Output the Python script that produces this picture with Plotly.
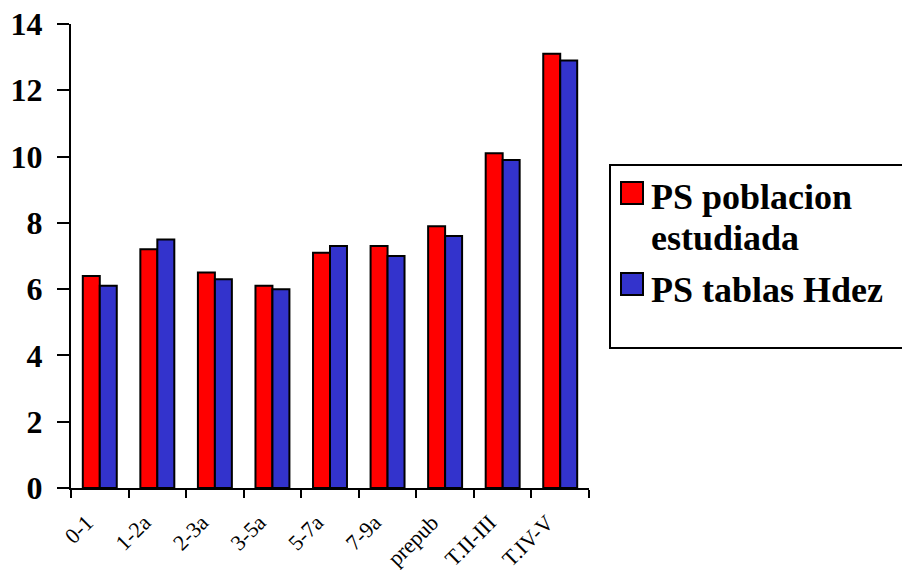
import plotly.graph_objects as go

categories = ["0-1", "1-2a", "2-3a", "3-5a", "5-7a", "7-9a", "prepub", "T.II-III", "T.IV-V"]
ps_poblacion = [6.4, 7.2, 6.5, 6.1, 7.1, 7.3, 7.9, 10.1, 13.1]
ps_tablas = [6.1, 7.5, 6.3, 6.0, 7.3, 7.0, 7.6, 9.9, 12.9]
series_names = ["PS poblacion<br>estudiada", "PS tablas Hdez"]
series_colors = ["#FF0000", "#3333CC"]

W, H = 902, 570
L, R, T, B = 71, 589, 24, 488
SERIF = "Liberation Serif, Times New Roman, serif"

def px(x):
    return (x - L) / (R - L)

def py(y):
    return (B - y) / (B - T)

fig = go.Figure()
for vals, col in zip([ps_poblacion, ps_tablas], series_colors):
    fig.add_trace(go.Bar(x=categories, y=vals, marker=dict(color=col, line=dict(color="black", width=2)),
                         showlegend=False))

fig.update_layout(
    width=W, height=H,
    margin=dict(l=L, r=W - R, t=T, b=H - B, autoexpand=False),
    paper_bgcolor="white", plot_bgcolor="white",
    barmode="group", bargap=0.41, bargroupgap=0,
    xaxis=dict(showline=True, linecolor="black", linewidth=2, ticks="outside", ticklen=8,
               tickwidth=2, tickcolor="black", tickson="boundaries", tickangle=-45, automargin=False,
               ticklabelshift=-13, ticklabelstandoff=11, ticklabeloverflow="allow",
               tickfont=dict(size=22, family=SERIF, color="black"), showgrid=False, range=[-0.5, 8.5]),
    yaxis=dict(showline=True, linecolor="black", linewidth=2, ticks="outside", ticklen=12,
               tickwidth=2, tickcolor="black", range=[0, 14], dtick=2, showgrid=False, automargin=False,
               ticklabelstandoff=8, ticklabeloverflow="allow",
               zeroline=False, tickfont=dict(size=32, family=SERIF, color="black", weight="bold")),
)

# Legend box (right edge runs past the page, as in the reference)
shapes = [dict(type="rect", xref="paper", yref="paper", x0=px(610), x1=px(910), y0=py(348), y1=py(165),
               line=dict(color="black", width=2), fillcolor="rgba(0,0,0,0)")]
sq_tops = [182, 273]
text_tops = [175, 268]
LINE = 41
annots = []
for name, col, top, ttop in zip(series_names, series_colors, sq_tops, text_tops):
    shapes.append(dict(type="rect", xref="paper", yref="paper", x0=px(621), x1=px(643),
                       y0=py(top + 22), y1=py(top), fillcolor=col, line=dict(color="black", width=2)))
    for i, line in enumerate(name.split("<br>")):
        annots.append(dict(xref="paper", yref="paper", x=px(649), y=py(ttop + i * LINE), xanchor="left",
                           yanchor="top", text="<b>" + line + "</b>", showarrow=False, align="left",
                           font=dict(size=36, family=SERIF, color="black")))
fig.update_layout(shapes=shapes, annotations=annots)

fig.write_html("out.html", config={"displayModeBar": False},
               post_script="document.body.style.margin='0';")
